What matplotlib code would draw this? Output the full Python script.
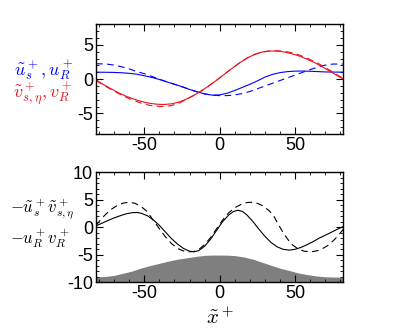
import matplotlib
matplotlib.use("Agg")
import matplotlib.pyplot as plt
import numpy as np

plt.rcParams['font.family'] = ['Liberation Sans', 'DejaVu Sans']
plt.rcParams['mathtext.fontset'] = 'cm'
plt.rcParams['axes.unicode_minus'] = False

# --- data ---
# top panel: streamwise (blue) and normal (red) velocity
x_u = [-82, -75, -70, -65, -60, -55, -50, -45, -40, -35, -30, -25, -20, -15, -10, -5, 0,
       5, 10, 15, 20, 25, 30, 35, 40, 45, 50, 55, 60, 65, 70, 75, 82]
u_R = [1.02, 1.0, 0.98, 0.93, 0.85, 0.72, 0.5, 0.25, -0.05, -0.4, -0.75, -1.1, -1.5, -1.85, -2.15, -2.33, -2.3,
       -2.05, -1.65, -1.2, -0.75, -0.25, 0.3, 0.7, 0.95, 1.1, 1.17, 1.18, 1.15, 1.1, 1.05, 1.03, 1.02]
u_s = [2.25, 2.2, 2.05, 1.8, 1.5, 1.1, 0.8, 0.4, 0.0, -0.4, -0.75, -1.1, -1.5, -1.85, -2.15, -2.35, -2.4,
       -2.4, -2.3, -2.1, -1.8, -1.4, -1.0, -0.6, -0.2, 0.2, 0.6, 1.0, 1.4, 1.75, 2.05, 2.2, 2.2]

x_v = [-82, -77, -72, -67, -62, -57, -52, -47, -42, -37, -32, -27, -22, -17, -12, -7, -2,
       3, 8, 13, 18, 23, 28, 33, 38, 43, 48, 53, 58, 63, 68, 73, 78, 82]
v_R = [-0.1, -0.8, -1.4, -2.0, -2.5, -2.9, -3.25, -3.5, -3.65, -3.7, -3.6, -3.35, -2.9, -2.35, -1.7, -0.95, -0.15,
       0.7, 1.55, 2.35, 3.05, 3.6, 3.95, 4.1, 4.1, 3.95, 3.7, 3.35, 2.9, 2.4, 1.8, 1.15, 0.5, 0.0]
v_s = [-0.2, -0.9, -1.5, -2.1, -2.65, -3.1, -3.5, -3.8, -3.95, -4.0, -3.85, -3.5, -2.95, -2.35, -1.7, -0.95, -0.15,
       0.7, 1.55, 2.35, 3.05, 3.6, 3.95, 4.1, 4.15, 4.05, 3.85, 3.5, 3.05, 2.55, 1.95, 1.3, 0.6, 0.1]

# bottom panel: Reynolds stress
x_tau = [-82, -78, -74, -70, -66, -62, -58, -55, -52, -48, -44, -40, -36, -32, -28, -24, -20, -17, -14, -10,
         -6, -2, 2, 6, 9, 12, 15, 18, 22, 26, 30, 34, 38, 42, 46, 50, 54, 58, 62, 66, 70, 74, 78, 82]
tau_R = [0.2, 0.7, 1.2, 1.65, 2.05, 2.4, 2.6, 2.65, 2.5, 2.05, 1.3, 0.3, -0.9, -2.1, -3.1, -3.9, -4.4, -4.5, -4.3, -3.5,
         -2.2, -0.6, 1.0, 2.2, 2.8, 3.05, 2.85, 2.2, 1.0, -0.4, -1.7, -2.8, -3.6, -4.05, -4.2, -4.05, -3.7, -3.2, -2.65,
         -2.0, -1.5, -0.95, -0.4, 0.1]
x_tau2 = [-82, -79, -76, -72, -68, -64, -60, -56, -52, -48, -44, -40, -36, -32, -28, -24, -20, -17, -14, -10,
          -6, -2, 2, 6, 10, 14, 18, 21, 25, 29, 33, 36, 39, 42, 45, 48, 52, 56, 61, 65, 69, 72, 76, 79, 82]
tau_s = [0.3, 1.3, 2.2, 3.2, 3.9, 4.35, 4.5, 4.3, 3.7, 2.8, 1.2, -0.3, -1.8, -3.0, -3.9, -4.35, -4.5, -4.45, -4.1, -3.2,
         -1.9, -0.3, 1.3, 2.6, 3.5, 4.1, 4.45, 4.5, 4.3, 3.8, 2.9, 1.9, 0.4, -1.0, -2.2, -3.2, -4.0, -4.4, -4.5,
         -4.3, -3.8, -3.3, -2.3, -1.4, -0.4]

# wall shape
x_wall = [-82, -76, -70, -64, -58, -52, -46, -40, -34, -28, -22, -16, -10, -5, 0,
          5, 10, 16, 22, 28, 34, 40, 46, 52, 58, 64, 70, 76, 82]
y_wall = [-9.05, -9.0, -8.8, -8.4, -8.0, -7.45, -7.0, -6.6, -6.2, -5.85, -5.6, -5.35, -5.15, -5.1, -5.1,
          -5.12, -5.2, -5.45, -5.85, -6.4, -6.95, -7.5, -7.9, -8.35, -8.65, -8.9, -9.05, -9.1, -9.1]

red = '#e8141c'
dash = (0, (6, 4))

fig = plt.figure(figsize=(4.01, 3.31), dpi=100)
ax1 = fig.add_axes([0.2394, 0.5952, 0.617, 0.3314])
ax2 = fig.add_axes([0.2394, 0.148, 0.617, 0.3323])

ax1.plot(x_u, u_R, color='blue', lw=0.8)
ax1.plot(x_u, u_s, color='blue', lw=0.8, ls=dash)
ax1.plot(x_v, v_R, color=red, lw=0.8)
ax1.plot(x_v, v_s, color=red, lw=0.8, ls=dash)
ax1.set_xlim(-82, 82)
ax1.set_ylim(-7.5, 7.5)
ax1.set_yticks([-5, 0, 5])

ax2.fill_between(x_wall, -10, y_wall, color='#7f7f7f', lw=0)
ax2.plot(x_tau, tau_R, color='black', lw=0.8)
ax2.plot(x_tau2, tau_s, color='black', lw=0.8, ls=dash)
ax2.set_xlim(-82, 82)
ax2.set_ylim(-10, 10)
ax2.set_yticks([-10, -5, 0, 5, 10])
ax2.set_xlabel(r'$\tilde{x}^+$', fontsize=15, labelpad=4)

for ax in (ax1, ax2):
    ax.set_xticks([-50, 0, 50])
    ax.set_xticks(np.arange(-80, 81, 10), minor=True)
    ax.set_yticks(np.arange(ax.get_ylim()[0] // 1, ax.get_ylim()[1] + 1, 1), minor=True)
    ax.tick_params(which='both', direction='in', top=True, right=True, labelsize=13, pad=2)
    ax.tick_params(which='major', length=5, width=0.8)
    ax.tick_params(which='minor', length=2.5, width=0.6)
    for s in ax.spines.values():
        s.set_linewidth(1.0)

# y labels as stacked coloured text
fig.text(44 / 401, 1 - 70 / 331, r'$\tilde{u}_s^+, u_R^+$', color='blue', fontsize=13, ha='center', va='center')
fig.text(43 / 401, 1 - 94 / 331, r'$\tilde{v}_{s,\eta}^+, v_R^+$', color=red, fontsize=13, ha='center', va='center')
fig.text(42 / 401, 1 - 209 / 331, r'$-\tilde{u}_s^+\tilde{v}_{s,\eta}^+$', color='black', fontsize=12, ha='center', va='center')
fig.text(40 / 401, 1 - 238 / 331, r'$-u_R^+ v_R^+$', color='black', fontsize=12, ha='center', va='center')

fig.savefig('out.png', dpi=100)
